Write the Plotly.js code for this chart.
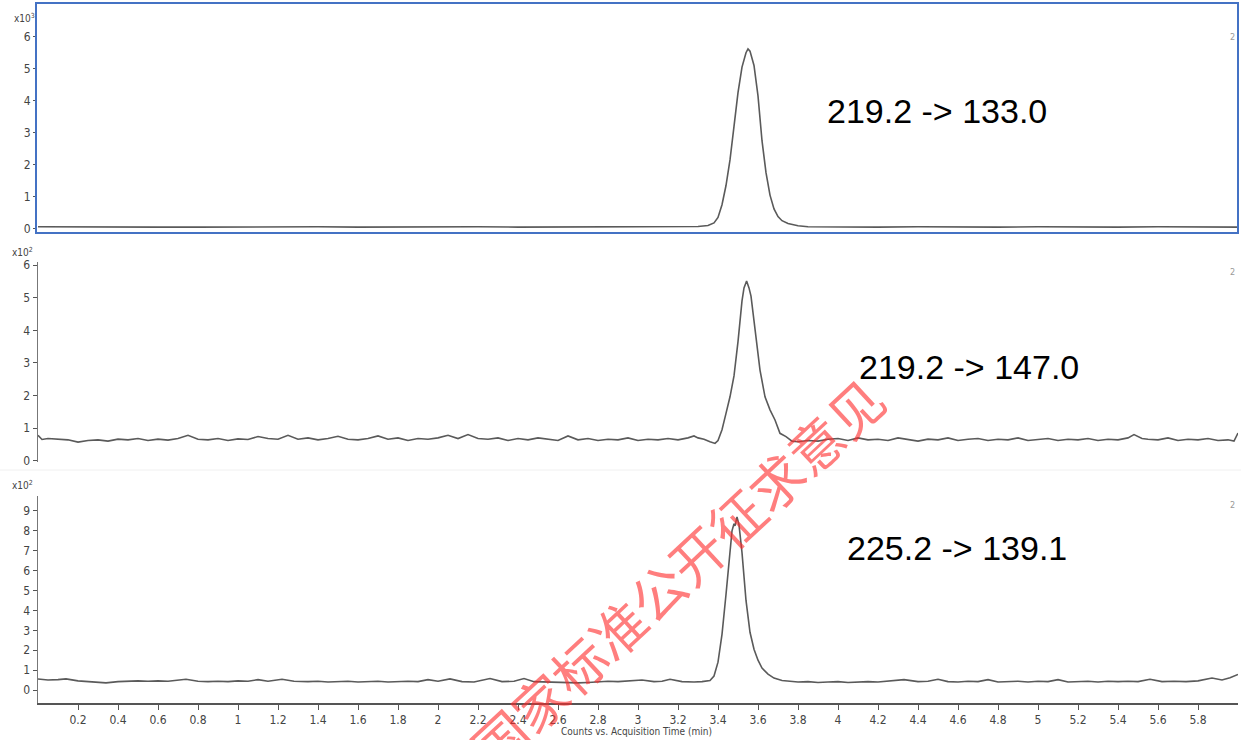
<!DOCTYPE html>
<html>
<head>
<meta charset="utf-8">
<script src="https://cdn.plot.ly/plotly-3.0.1.min.js"></script>
<style>html,body{margin:0;padding:0;background:#fff;}#chart{width:1241px;height:740px;}</style>
</head>
<body>
<div id="chart"></div>
<script>
// ---- Data ----
// Panel 1: 219.2 -> 133.0  (counts x10^3)
var timeTop = [0.0,0.2,0.4,0.6,0.8,1.0,1.2,1.4,1.6,1.8,2.0,2.2,2.4,2.6,2.8,3.0,3.2,3.30,3.35,3.38,
  3.40,3.42,3.44,3.46,3.48,3.50,3.52,3.54,3.55,3.56,3.58,3.60,3.62,3.64,3.66,3.68,3.70,3.72,3.75,3.80,3.85,
  4.0,4.2,4.4,4.6,4.8,5.0,5.2,5.4,5.6,5.8,6.0];
var countsTop = [0.06,0.05,0.06,0.05,0.05,0.06,0.05,0.06,0.05,0.06,0.05,0.06,0.05,0.05,0.06,0.05,0.06,0.07,0.10,0.18,
  0.35,0.75,1.35,2.15,3.20,4.25,5.05,5.50,5.62,5.55,5.10,4.15,2.75,1.75,1.05,0.62,0.38,0.25,0.16,0.09,0.06,
  0.05,0.05,0.06,0.05,0.05,0.06,0.05,0.05,0.06,0.05,0.05];

// Panel 2: 219.2 -> 147.0  (counts x10^2)
var timeMid = [0.00,0.02,0.05,0.10,0.15,0.20,0.25,0.30,0.35,0.40,0.45,0.50,0.55,0.60,0.65,0.70,0.75,0.80,0.85,0.90,0.95,
  1.00,1.05,1.10,1.15,1.20,1.25,1.30,1.35,1.40,1.45,1.50,1.55,1.60,1.65,1.70,1.75,1.80,1.85,1.90,1.95,
  2.00,2.05,2.10,2.15,2.20,2.25,2.30,2.35,2.40,2.45,2.50,2.55,2.60,2.65,2.70,2.75,2.80,2.85,2.90,2.95,
  3.00,3.05,3.10,3.15,3.20,3.25,3.28,3.30,3.33,3.36,3.385,3.40,3.42,3.44,3.46,3.48,3.50,3.52,3.53,3.543,
  3.555,3.565,3.575,3.59,3.61,3.635,3.66,3.685,3.71,3.74,3.77,3.80,3.85,3.90,3.95,
  4.00,4.05,4.10,4.15,4.20,4.25,4.30,4.35,4.40,4.45,4.50,4.55,4.60,4.65,4.70,4.75,4.80,4.85,4.90,4.95,
  5.00,5.05,5.10,5.15,5.20,5.25,5.30,5.35,5.40,5.45,5.48,5.52,5.55,5.60,5.65,5.70,5.75,5.80,5.85,5.90,5.95,5.98,6.00];
var countsMid = [0.78,0.65,0.68,0.66,0.64,0.57,0.62,0.64,0.60,0.66,0.64,0.68,0.62,0.66,0.63,0.68,0.78,0.66,0.64,0.68,0.62,
  0.67,0.65,0.74,0.68,0.66,0.78,0.66,0.70,0.64,0.68,0.75,0.66,0.64,0.68,0.76,0.66,0.70,0.62,0.68,0.66,
  0.70,0.78,0.68,0.80,0.68,0.66,0.70,0.62,0.68,0.64,0.70,0.66,0.62,0.76,0.64,0.68,0.62,0.66,0.64,0.70,
  0.62,0.66,0.64,0.68,0.64,0.70,0.76,0.70,0.66,0.58,0.53,0.62,0.95,1.45,1.96,2.60,3.65,4.90,5.30,5.51,
  5.30,5.05,4.55,3.80,2.78,1.96,1.56,1.25,0.84,0.74,0.60,0.58,0.62,0.60,0.66,
  0.68,0.62,0.70,0.64,0.66,0.62,0.70,0.66,0.60,0.66,0.64,0.70,0.62,0.66,0.68,0.62,0.66,0.64,0.70,0.62,
  0.66,0.68,0.62,0.66,0.64,0.68,0.62,0.66,0.64,0.70,0.80,0.68,0.66,0.64,0.70,0.62,0.66,0.64,0.68,0.62,0.64,0.60,0.85];

// Panel 3: 225.2 -> 139.1  (counts x10^2)
var timeBot = [0.00,0.05,0.10,0.14,0.20,0.25,0.30,0.34,0.40,0.45,0.50,0.55,0.60,0.65,0.70,0.74,0.80,0.85,0.90,0.95,
  1.00,1.05,1.10,1.15,1.22,1.28,1.35,1.40,1.45,1.50,1.55,1.60,1.65,1.70,1.75,1.80,1.85,1.90,1.95,
  2.00,2.06,2.12,2.18,2.26,2.32,2.38,2.43,2.48,2.55,2.60,2.65,2.70,2.75,2.80,2.85,2.90,2.95,
  3.02,3.08,3.12,3.16,3.22,3.28,3.32,3.36,3.38,3.40,3.42,3.44,3.46,3.47,3.48,3.485,3.495,3.505,
  3.52,3.54,3.56,3.58,3.60,3.62,3.65,3.68,3.72,3.76,3.80,3.85,3.90,3.95,
  4.00,4.05,4.10,4.15,4.20,4.25,4.33,4.40,4.45,4.50,4.55,4.60,4.65,4.70,4.75,4.80,4.85,4.90,4.95,
  5.00,5.05,5.10,5.15,5.20,5.25,5.30,5.35,5.40,5.45,5.50,5.56,5.62,5.68,5.74,5.80,5.87,5.92,5.96,6.00];
var countsBot = [0.55,0.50,0.52,0.56,0.46,0.42,0.40,0.36,0.42,0.44,0.46,0.44,0.46,0.44,0.48,0.54,0.44,0.42,0.44,0.42,
  0.46,0.44,0.52,0.44,0.54,0.44,0.42,0.44,0.40,0.42,0.44,0.40,0.42,0.44,0.40,0.42,0.44,0.42,0.52,
  0.44,0.56,0.42,0.40,0.58,0.42,0.44,0.58,0.42,0.40,0.38,0.40,0.36,0.38,0.40,0.44,0.42,0.46,
  0.50,0.42,0.44,0.54,0.42,0.40,0.42,0.48,0.70,1.40,2.80,4.80,7.00,8.00,8.35,8.25,8.70,8.30,
  6.90,4.50,2.90,2.05,1.50,1.10,0.80,0.60,0.48,0.44,0.40,0.42,0.38,0.40,
  0.42,0.38,0.40,0.42,0.40,0.44,0.52,0.42,0.44,0.54,0.42,0.40,0.44,0.42,0.52,0.40,0.42,0.44,0.40,
  0.44,0.42,0.52,0.40,0.42,0.44,0.40,0.44,0.42,0.44,0.42,0.54,0.42,0.44,0.42,0.46,0.60,0.50,0.62,0.78];

var xTickVals = [0.2,0.4,0.6,0.8,1,1.2,1.4,1.6,1.8,2,2.2,2.4,2.6,2.8,3,3.2,3.4,3.6,3.8,4,4.2,4.4,4.6,4.8,5,5.2,5.4,5.6,5.8];
var xTickText = ["0.2","0.4","0.6","0.8","1","1.2","1.4","1.6","1.8","2","2.2","2.4","2.6","2.8","3","3.2","3.4","3.6","3.8","4","4.2","4.4","4.6","4.8","5","5.2","5.4","5.6","5.8"];
var yTicksTop = [0,1,2,3,4,5,6];
var yTicksMid = [0,1,2,3,4,5,6];
var yTicksBot = [0,1,2,3,4,5,6,7,8,9];
var transitionLabels = ["219.2 -> 133.0","219.2 -> 147.0","225.2 -> 139.1"];
var scaleLabels = ["x10<sup>3</sup>","x10<sup>2</sup>","x10<sup>2</sup>"];
var xTitle = "Counts vs. Acquisition Time (min)";
var watermark = "国家标准公开征求意见";

// ---- Layout helpers (pixel -> paper) ----
var W = 1241, H = 740, ML = 38, MR = 3, MT = 3, MB = 37;
var PW = W - ML - MR, PH = H - MT - MB;
function px(x){ return (x - ML) / PW; }
function py(y){ return (H - MB - y) / PH; }

var narrow = "Liberation Sans Narrow, Arial Narrow, DejaVu Sans Condensed, sans-serif";
var lineStyle = {color: "rgb(90,90,90)", width: 1.6};

var traces = [
  {x: timeTop, y: countsTop, xaxis: "x", yaxis: "y", mode: "lines", line: lineStyle, hoverinfo: "skip"},
  {x: timeMid, y: countsMid, xaxis: "x", yaxis: "y2", mode: "lines", line: lineStyle, hoverinfo: "skip"},
  {x: timeBot, y: countsBot, xaxis: "x", yaxis: "y3", mode: "lines", line: lineStyle, hoverinfo: "skip"}
];

var tickFont = {family: narrow, size: 12, color: "#444"};
function yAxis(domain, range, vals, showline){
  return {domain: domain, range: range, anchor: "x", tickvals: vals, ticks: "outside", ticklen: 4,
    tickwidth: 1, tickcolor: "#555", tickfont: tickFont, showgrid: false, zeroline: false,
    showline: showline, linecolor: "#777", linewidth: 1.5, fixedrange: true};
}

var topD = [py(233), py(3)], topR = [(228.7-233)/32, (228.7-3)/32];
var midD = [py(462), py(262)], midR = [(460.7-462)/32.6, (460.7-262)/32.6];
var botD = [0, py(496)], botR = [(690-703)/19.9, (690-496)/19.9];

function note(x, y, text, font, extra){
  var a = {xref:"paper", yref:"paper", x:px(x), y:py(y), text:text, showarrow:false,
    xanchor:"center", yanchor:"middle", font:font};
  if (extra) for (var key in extra) a[key] = extra[key];
  return a;
}

var ann = [];
var labelPos = [[937,111],[969,367],[957,548]];
for (var i=0;i<3;i++){
  ann.push(note(labelPos[i][0], labelPos[i][1], transitionLabels[i],
    {family:"Liberation Sans, Arial, sans-serif", size:34, color:"#000"}));
}
var scalePos = [[24,18],[22,252],[22,485]];
for (var j=0;j<3;j++){
  ann.push(note(scalePos[j][0], scalePos[j][1], scaleLabels[j], {family:narrow, size:10, color:"#444"}));
}
var twoPos = [37,272,505];
for (var k=0;k<3;k++){
  ann.push(note(1232, twoPos[k], "2", {family:narrow, size:9, color:"#999"}));
}
ann.push(note(636, 731, xTitle, {family:narrow, size:10, color:"#444"}));
ann.push(note(676, 572, watermark, {family:"Noto Sans CJK SC, sans-serif", size:54, color:"rgba(255,40,40,0.6)"},
  {textangle:-43}));

var layout = {
  width: W, height: H, margin: {l: ML, r: MR, t: MT, b: MB},
  paper_bgcolor: "#fff", plot_bgcolor: "rgba(0,0,0,0)", showlegend: false,
  xaxis: {domain:[0,1], range:[0,6.0], anchor:"y3", tickvals:xTickVals, ticktext:xTickText,
    ticks:"outside", ticklen:5, tickwidth:1, tickcolor:"#555", tickfont:tickFont,
    showline:true, linecolor:"#555", linewidth:2, showgrid:false, zeroline:false, fixedrange:true},
  yaxis: yAxis(topD, topR, yTicksTop, false),
  yaxis2: yAxis(midD, midR, yTicksMid, true),
  yaxis3: yAxis(botD, botR, yTicksBot, true),
  shapes: [
    {type:"rect", xref:"paper", yref:"paper", x0:px(36), x1:px(1238), y0:py(233), y1:py(3),
      line:{color:"#4472c4", width:2}},
    {type:"line", xref:"paper", yref:"paper", x0:px(0), x1:px(1241), y0:py(470), y1:py(470),
      line:{color:"#f0f0f0", width:1}}
  ],
  annotations: ann
};

Plotly.newPlot("chart", traces, layout, {staticPlot: true, displayModeBar: false});
</script>
</body>
</html>
